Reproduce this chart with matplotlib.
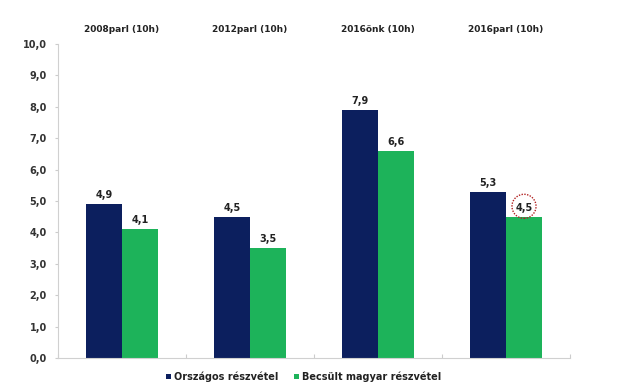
import numpy as np
import matplotlib.pyplot as plt

plt.rcParams['font.family'] = ['DejaVu Sans']

categories = ['2008parl (10h)', '2012parl (10h)', '2016önk (10h)', '2016parl (10h)']
orszagos = [4.9, 4.5, 7.9, 5.3]
becsult = [4.1, 3.5, 6.6, 4.5]
series_names = ['Országos részvétel', 'Becsült magyar részvétel']

navy = '#0c1f5e'
green = '#1db35a'

fig = plt.figure(figsize=(6.2, 3.85), dpi=100)
ax = fig.add_axes([0.0935, 0.070, 0.826, 0.816])

x = np.arange(len(categories))
w = 0.28
b1 = ax.bar(x - w / 2, orszagos, w, color=navy, label=series_names[0])
b2 = ax.bar(x + w / 2, becsult, w, color=green, label=series_names[1])

for bars, vals in ((b1, orszagos), (b2, becsult)):
    for r, v in zip(bars, vals):
        ax.text(r.get_x() + r.get_width() / 2, v + 0.12, f'{v:.1f}'.replace('.', ','),
                ha='center', va='bottom', fontsize=7, fontweight='bold', color='#222222')

# red dotted circle round the last value
ax.scatter([x[-1] + w / 2], [becsult[-1] + 0.33], s=300, facecolors='none',
           edgecolors='#b22222', linewidths=1.0, linestyles=(0, (1, 1)), zorder=5)

for i, c in enumerate(categories):
    ax.text(i, 1.045, c, transform=ax.get_xaxis_transform(), ha='center', va='center',
            fontsize=6.5, fontweight='bold', color='#222222')

ax.set_xlim(-0.5, len(categories) - 0.5)
ax.set_ylim(0, 10)
yt = np.arange(0, 10.5, 1.0)
ax.set_yticks(yt)
ax.set_yticklabels([f'{v:.1f}'.replace('.', ',') for v in yt],
                   fontsize=7, fontweight='bold', color='#333333')
ax.set_xticks(np.arange(-0.5, len(categories), 1.0))
ax.set_xticklabels([])
ax.tick_params(axis='x', length=3, color='#cccccc', direction='in')
ax.tick_params(axis='y', length=2, color='#cccccc', direction='out', pad=6)

for s in ('top', 'right'):
    ax.spines[s].set_visible(False)
for s in ('left', 'bottom'):
    ax.spines[s].set_color('#d0d0d0')

leg = fig.legend(handles=[b1, b2], loc='center', bbox_to_anchor=(0.49, 0.022), ncol=2,
                 frameon=False, fontsize=7, handlelength=0.5, handleheight=0.5,
                 handletextpad=0.3, columnspacing=1.6)
for t in leg.get_texts():
    t.set_fontweight('bold')
    t.set_color('#222222')

fig.savefig('out.png', dpi=100)
